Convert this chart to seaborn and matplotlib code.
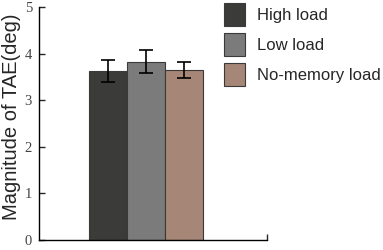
import pandas as pd
import seaborn as sns
import matplotlib.pyplot as plt

# values
conditions = ["High load", "Low load", "No-memory load"]
means = [3.63, 3.83, 3.65]
errs = [0.24, 0.25, 0.18]
colors = ["#3b3b39", "#7b7b7b", "#a68676"]
yticks = [0, 1, 2, 3, 4, 5]

df = pd.DataFrame({"group": ["all"] * 3, "condition": conditions, "tae": means})

sns.set_theme(style="ticks", rc={"axes.linewidth": 1, "axes.edgecolor": "black"})
plt.rcParams["font.serif"] = ["Liberation Serif", "DejaVu Serif"]

fig = plt.figure(figsize=(3.83, 2.5), dpi=100)
ax = fig.add_axes([0.102, 0.04, 0.595, 0.932])

sns.barplot(
    data=df, x="group", y="tae", hue="condition", hue_order=conditions,
    palette=colors, errorbar=None, width=0.8, saturation=1,
    edgecolor="#3a3a3a", linewidth=0.8, ax=ax, legend=True,
)

# error bars at the bar centres
for patch, m, e in zip(ax.patches, means, errs):
    ax.errorbar(patch.get_x() + patch.get_width() / 2, m, yerr=e,
                fmt="none", ecolor="black", elinewidth=1.2, capsize=5, capthick=1.2)

ax.set_xlim(-0.75, 0.85)
ax.set_ylim(0, 5)
ax.set_yticks(yticks)
ax.set_xticks([0.85], labels=[""])
ax.tick_params(axis="x", direction="in", length=4, width=1)
ax.tick_params(axis="y", direction="in", length=4, width=1, pad=5,
               labelsize=10.5, labelcolor="#444444")

ax.set_xlabel("")
ax.set_ylabel("Magnitude of TAE(deg)", fontsize=14.5, family="Liberation Sans")
ax.yaxis.set_label_coords(-0.08, 0.53)
sns.despine(ax=ax)

handles, labels = ax.get_legend_handles_labels()
ax.get_legend().remove()
fig.legend(handles, labels, loc="upper left", bbox_to_anchor=(224 / 383, 1 - 3 / 250),
           frameon=False, borderpad=0, borderaxespad=0,
           handlelength=1.26, handleheight=1.75, handletextpad=0.7,
           labelspacing=0.42, prop={"family": "Liberation Sans", "size": 12})

fig.canvas.draw()
for lab in ax.get_yticklabels():
    lab.set_fontfamily("serif")

fig.savefig("out.png", dpi=100)
